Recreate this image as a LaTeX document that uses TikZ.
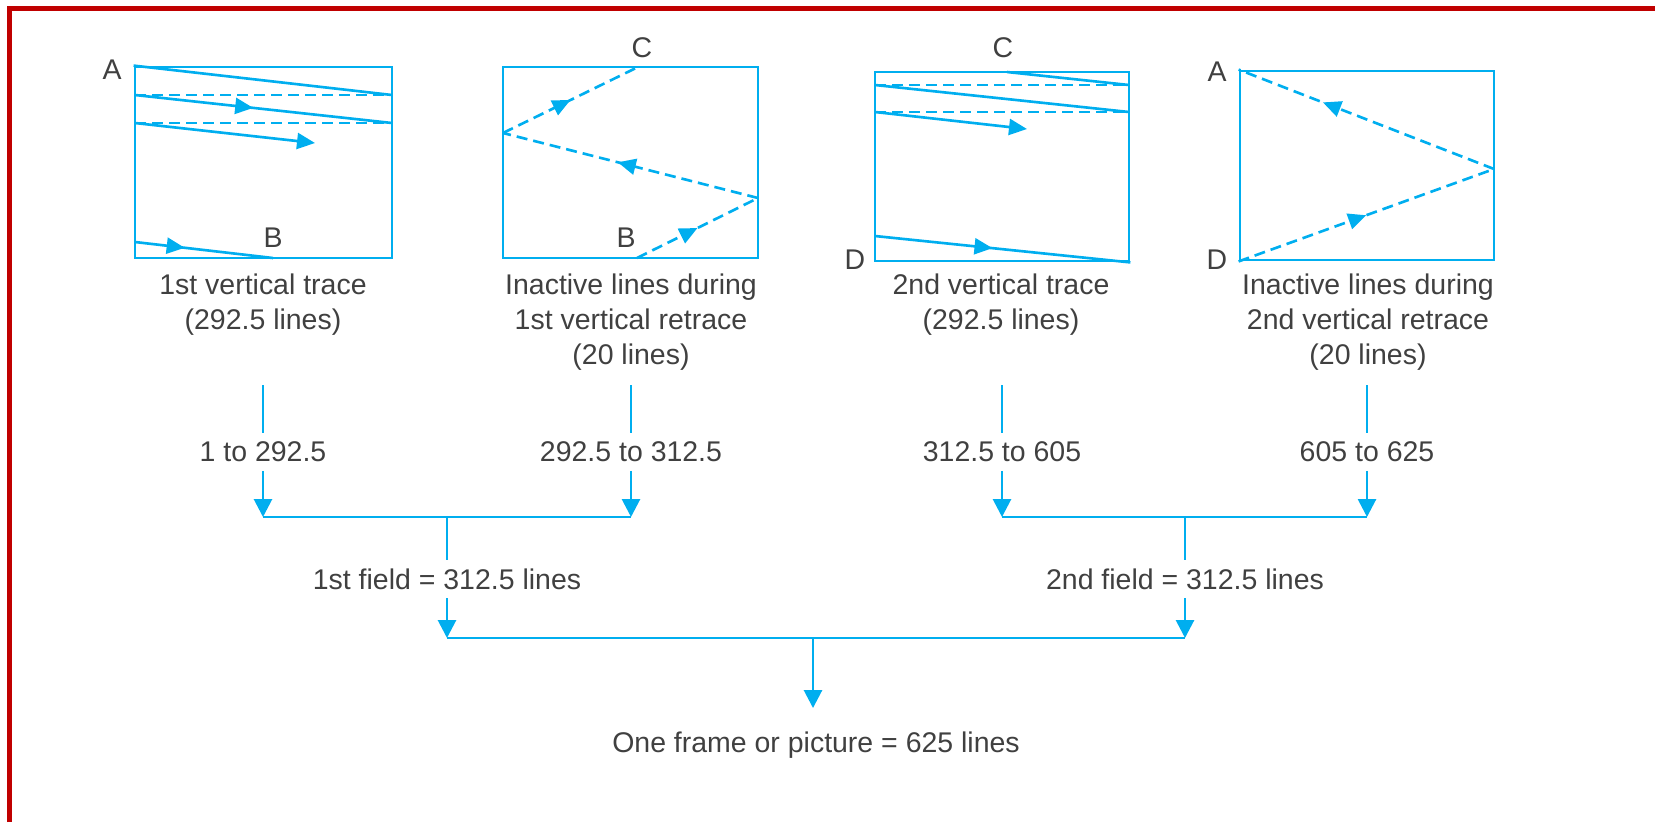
\documentclass[tikz,border=0pt]{standalone}
\usepackage{fontspec}
\setmainfont{Liberation Sans}
\usetikzlibrary{arrows.meta,decorations.markings}

\definecolor{tvblue}{RGB}{0,174,239}
\definecolor{txtgray}{RGB}{64,64,64}
\definecolor{framered}{RGB}{192,0,0}

\begin{document}
\begin{tikzpicture}[
  x=1mm, y=-1mm,
  font=\fontsize{8.1}{10}\selectfont,
  screen/.style={draw=tvblue, line width=0.8pt, minimum width=25.4mm,
               minimum height=18.9mm, inner sep=0pt},
  trace/.style={tvblue, line width=0.75pt},
  retrace/.style={trace, dash pattern=on 1.1mm off 0.6mm},
  midtip/.style={postaction=decorate, decoration={markings,
               mark=at position #1 with {\arrow{Triangle[length=1.8mm, width=1.6mm]}}}},
  endtip/.style={-{Triangle[length=1.8mm, width=1.6mm]}},
  corner/.style={text=txtgray, inner sep=0pt},
  caption/.style={text=txtgray, align=center},
  tally/.style={text=txtgray, inner sep=0.8mm},
  link/.style={tvblue, line width=0.8pt},
  flow/.style={link, -{Triangle[length=1.8mm, width=1.8mm]}},
]
  \useasboundingbox (0,0) rectangle (165.5,82.2);
  \draw[framered, line width=1.4pt] (0.95,82.2) -- (0.95,0.85) -- (165.5,0.85);

  % First field: trace A to B, then retrace B to C
  \node[screen, minimum width=25.7mm, minimum height=19.1mm] (s1) at (26.35,16.25) {};
  \draw[trace] (s1.north west) -- (39.2,9.5);
  \draw[retrace] (13.5,9.5) -- (39.2,9.5);
  \draw[trace, midtip=0.46] (13.5,9.5) -- (39.2,12.3);
  \draw[retrace] (13.5,12.3) -- (39.2,12.3);
  \draw[trace, endtip] (13.5,12.3) -- (31.5,14.3);
  \draw[trace, midtip=0.36] (13.5,24.2) -- (27.3,25.8);
  \node[corner] (A1) at (11.2,7.0) {A};
  \node[corner] (B1) at (27.3,23.8) {B};

  \node[screen, minimum width=25.5mm, minimum height=19.1mm] (s2) at (63.05,16.25) {};
  \draw[retrace, midtip=0.5] (63.7,25.8) -- (75.8,19.8);
  \draw[retrace, midtip=0.55] (75.8,19.8) -- (50.3,13.3);
  \draw[retrace, midtip=0.5] (50.3,13.3) -- (63.8,6.7);
  \node[corner] (C2) at (64.2,4.8) {C};
  \node[corner] (B2) at (62.6,23.8) {B};

  % Second field: trace C to D, then retrace D to A
  \node[screen] (s3) at (100.2,16.65) {};
  \draw[trace] (100.7,7.2) -- (112.9,8.5);
  \draw[retrace] (87.5,8.5) -- (112.9,8.5);
  \draw[trace] (87.5,8.5) -- (112.9,11.2);
  \draw[retrace] (87.5,11.2) -- (112.9,11.2);
  \draw[trace, endtip] (87.5,11.2) -- (102.7,12.9);
  \draw[trace, midtip=0.46] (87.5,23.6) -- (s3.south east);
  \node[corner] (C3) at (100.3,4.8) {C};
  \node[corner] (D3) at (85.5,26.0) {D};

  \node[screen] (s4) at (136.7,16.55) {};
  \draw[retrace, midtip=0.67] (149.4,16.9) -- (s4.north west);
  \draw[retrace, midtip=0.5] (s4.south west) -- (149.4,16.9);
  \node[corner] (A4) at (121.7,7.2) {A};
  \node[corner] (D4) at (121.7,26.0) {D};

  \node[caption] (cap1) at (26.3,30.5) {1st vertical trace\\(292.5 lines)};
  \node[caption] (cap2) at (63.1,32.2) {Inactive lines during\\1st vertical retrace\\(20 lines)};
  \node[caption] (cap3) at (100.1,30.5) {2nd vertical trace\\(292.5 lines)};
  \node[caption] (cap4) at (136.8,32.2) {Inactive lines during\\2nd vertical retrace\\(20 lines)};

  % Line counts run down into the two fields
  \node[tally] (r1) at (26.3,45.2) {1 to 292.5};
  \node[tally] (r2) at (63.1,45.2) {292.5 to 312.5};
  \node[tally] (r3) at (100.2,45.2) {312.5 to 605};
  \node[tally] (r4) at (136.7,45.2) {605 to 625};
  \coordinate (m1) at (44.7,51.7);
  \coordinate (m2) at (118.5,51.7);
  \foreach \i in {1,...,4} {
    \path (r\i) ++(0,-6.7) coordinate (t\i);
    \draw[link] (t\i) -- (r\i);
  }
  \draw[flow] (r1) -- (r1 |- m1);
  \draw[flow] (r2) -- (r2 |- m1);
  \draw[flow] (r3) -- (r3 |- m2);
  \draw[flow] (r4) -- (r4 |- m2);
  \draw[link] (r1 |- m1) -- (r2 |- m1);
  \draw[link] (r3 |- m2) -- (r4 |- m2);

  \node[tally] (f1) at (44.7,57.9) {1st field = 312.5 lines};
  \node[tally] (f2) at (118.5,57.9) {2nd field = 312.5 lines};
  \draw[link] (m1) -- (f1);
  \draw[link] (m2) -- (f2);
  \coordinate (m3) at (81.3,63.8);
  \draw[flow] (f1) -- (f1 |- m3);
  \draw[flow] (f2) -- (f2 |- m3);
  \draw[link] (f1 |- m3) -- (f2 |- m3);

  \node[caption, inner sep=2.3mm] (frame) at (81.6,74.5) {One frame or picture = 625 lines};
  \draw[flow] (m3) -- (m3 |- frame.north);
\end{tikzpicture}
\end{document}
